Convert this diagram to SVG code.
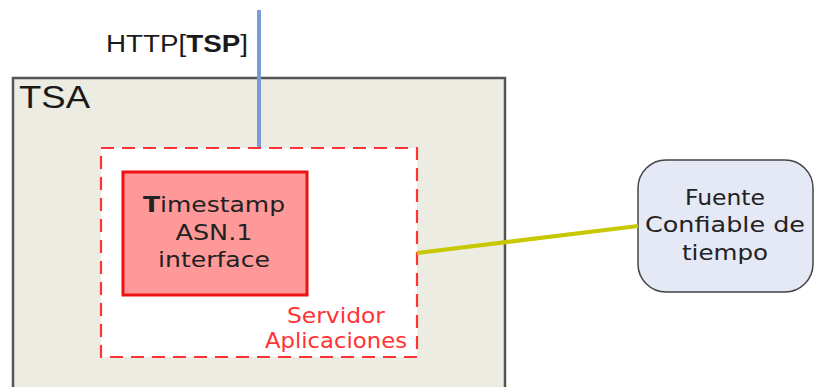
<svg xmlns="http://www.w3.org/2000/svg" width="815" height="387" viewBox="0 0 815 387">
<style>
.sans{font-family:"Liberation Sans",Arial,sans-serif;fill:#1a1a1a}
.ver{font-family:"DejaVu Sans",Verdana,sans-serif;fill:#222;font-size:22px;text-anchor:middle}
.red{fill:#ff3333}
</style>
<rect width="815" height="387" fill="#ffffff"/>
<g id="tsa">
<rect x="13" y="78" width="492" height="320" fill="#ecece2" stroke="#555" stroke-width="2.5"/>
<text class="sans" x="19" y="108" font-size="31" textLength="71" lengthAdjust="spacingAndGlyphs">TSA</text>
</g>
<g id="servidor">
<rect x="101" y="148" width="316" height="209" fill="#ffffff" stroke="#ff3333" stroke-width="2.2" stroke-dasharray="13,8"/>
<text class="ver red" x="336" y="323" textLength="98" lengthAdjust="spacingAndGlyphs">Servidor</text>
<text class="ver red" x="336" y="348" textLength="142" lengthAdjust="spacingAndGlyphs">Aplicaciones</text>
</g>
<g id="timestamp">
<rect x="123" y="172" width="184" height="123" fill="#ff9999" stroke="#ee1111" stroke-width="3"/>
<text class="ver" x="214" y="212" textLength="142" lengthAdjust="spacingAndGlyphs"><tspan font-weight="bold">T</tspan>imestamp</text>
<text class="ver" x="214" y="240" textLength="77" lengthAdjust="spacingAndGlyphs">ASN.1</text>
<text class="ver" x="214" y="267" textLength="112" lengthAdjust="spacingAndGlyphs">interface</text>
</g>
<g id="fuente">
<rect x="638" y="160" width="175" height="132" rx="28" ry="28" fill="#e4e9f5" stroke="#444" stroke-width="1.5"/>
<text class="ver" x="725" y="205" textLength="80" lengthAdjust="spacingAndGlyphs">Fuente</text>
<text class="ver" x="725" y="232" textLength="160" lengthAdjust="spacingAndGlyphs">Confiable de</text>
<text class="ver" x="725" y="260" textLength="86" lengthAdjust="spacingAndGlyphs">tiempo</text>
</g>
<g id="connectors">
<line x1="259" y1="10" x2="259" y2="147" stroke="#7b9bd6" stroke-width="4"/>
<line x1="417" y1="253" x2="638" y2="226" stroke="#c8c800" stroke-width="4"/>
</g>
<g id="http-label">
<text class="sans" x="106" y="52" font-size="23" textLength="142" lengthAdjust="spacingAndGlyphs">HTTP[<tspan font-weight="bold">TSP</tspan>]</text>
</g>
</svg>
